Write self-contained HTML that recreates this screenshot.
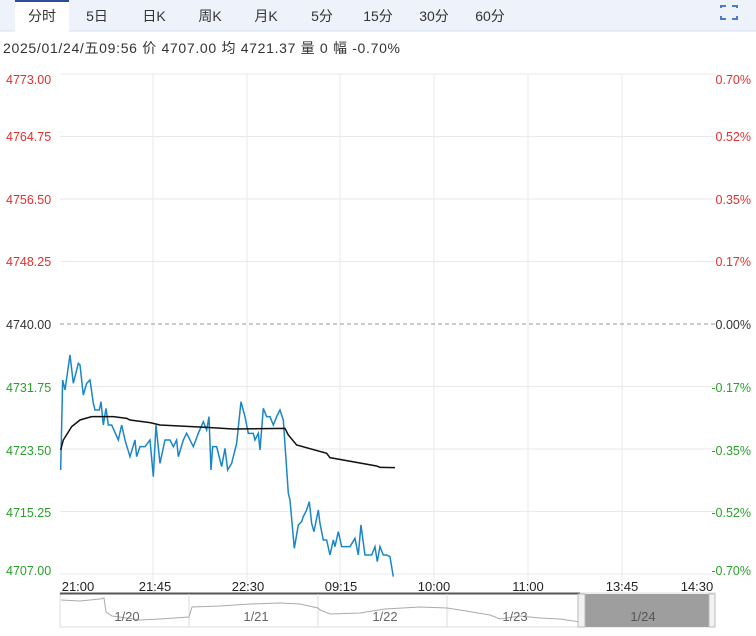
<!DOCTYPE html>
<html><head><meta charset="utf-8"><style>
body{margin:0;width:756px;height:631px;background:#fff;overflow:hidden;font-family:"Liberation Sans","Noto Sans CJK SC",sans-serif;}
</style></head><body>
<svg width="756" height="631" xmlns="http://www.w3.org/2000/svg" font-family="Liberation Sans, Noto Sans CJK SC, sans-serif">
<rect x="0" y="0" width="756" height="31" fill="#edf2fb"/>
<line x1="0" y1="31" x2="756" y2="31" stroke="#d8e0ee"/>
<rect x="15" y="0" width="54" height="32" fill="#fff"/>
<rect x="15" y="0" width="54" height="2" fill="#2a4d9b"/>
<g font-size="14" fill="#333" text-anchor="middle">
<text x="42" y="21">分时</text><text x="97" y="21">5日</text><text x="154" y="21">日K</text><text x="210" y="21">周K</text><text x="266" y="21">月K</text><text x="322" y="21">5分</text><text x="378" y="21">15分</text><text x="434" y="21">30分</text><text x="490" y="21">60分</text>
</g>
<g stroke="#4a7cc9" stroke-width="2" fill="none"><path d="M721 8v-2h5M732 6h5v2M721 16v3h5M732 19h5v-3"/></g>
<text x="3" y="53" font-size="14" fill="#333" textLength="397" lengthAdjust="spacing">2025/01/24/五09:56  价 4707.00  均 4721.37  量 0  幅 -0.70%</text>
<g stroke="#eaeaea" stroke-width="1">
<line x1="60" y1="74" x2="715" y2="74"/><line x1="60" y1="136.5" x2="715" y2="136.5"/><line x1="60" y1="199" x2="715" y2="199"/><line x1="60" y1="261.5" x2="715" y2="261.5"/><line x1="60" y1="386.5" x2="715" y2="386.5"/><line x1="60" y1="449" x2="715" y2="449"/><line x1="60" y1="511.5" x2="715" y2="511.5"/><line x1="60" y1="574" x2="715" y2="574"/>
<line x1="153" y1="74" x2="153" y2="593"/><line x1="247" y1="74" x2="247" y2="593"/><line x1="340" y1="74" x2="340" y2="593"/><line x1="434" y1="74" x2="434" y2="593"/><line x1="528" y1="74" x2="528" y2="593"/><line x1="622" y1="74" x2="622" y2="593"/>
</g>
<line x1="60" y1="324" x2="715" y2="324" stroke="#999" stroke-dasharray="4,3"/>
<g font-size="12.5">
<g fill="#e03030"><text x="6" y="84">4773.00</text><text x="6" y="141">4764.75</text><text x="6" y="204">4756.50</text><text x="6" y="266">4748.25</text>
<text x="751" y="84" text-anchor="end">0.70%</text><text x="751" y="141" text-anchor="end">0.52%</text><text x="751" y="204" text-anchor="end">0.35%</text><text x="751" y="266" text-anchor="end">0.17%</text></g>
<g fill="#333"><text x="6" y="329">4740.00</text><text x="751" y="329" text-anchor="end">0.00%</text></g>
<g fill="#2aa02a"><text x="6" y="392">4731.75</text><text x="6" y="455">4723.50</text><text x="6" y="517">4715.25</text><text x="6" y="575">4707.00</text>
<text x="751" y="392" text-anchor="end">-0.17%</text><text x="751" y="455" text-anchor="end">-0.35%</text><text x="751" y="517" text-anchor="end">-0.52%</text><text x="751" y="575" text-anchor="end">-0.70%</text></g>
</g>
<g transform="translate(40,340) scale(0.3333)" fill="none">
<polyline stroke="#1a86c8" stroke-width="4.5" points="62,390 68,120 75,150 90,45 100,130 115,70 120,75 130,165 140,130 150,120 160,190 165,210 178,210 183,185 190,255 198,205 205,255 215,255 235,300 245,255 255,300 270,350 285,300 290,350 300,320 315,320 330,300 340,410 348,255 360,370 375,300 390,300 400,320 410,300 415,350 430,300 440,280 460,320 475,280 490,245 500,270 507,230 513,390 518,320 530,320 545,380 555,325 563,390 575,370 590,310 603,185 615,230 625,280 640,280 645,300 655,280 660,330 670,205 680,230 690,230 700,255 710,230 720,210 730,240 745,460 750,480 763,625 775,555 785,545 790,530 800,510 808,485 815,550 822,575 835,510 840,550 850,600 860,600 870,645 880,600 885,620 895,575 905,620 930,620 945,595 955,645 963,555 975,645 995,645 1005,620 1012,665 1020,620 1030,645 1040,645 1050,650 1060,710"/>
<polyline stroke="#111" stroke-width="4.5" points="62,330 70,300 95,260 120,240 155,230 220,230 260,235 270,240 330,248 360,255 500,262 580,267 735,265 745,285 770,315 860,340 870,353 1010,378 1020,382 1065,383"/>
</g>
<g font-size="13" fill="#222" text-anchor="middle">
<text x="78" y="591">21:00</text><text x="155" y="591">21:45</text><text x="248" y="591">22:30</text><text x="341" y="591">09:15</text><text x="434" y="591">10:00</text><text x="528" y="591">11:00</text><text x="622" y="591">13:45</text><text x="697" y="591">14:30</text>
</g>
<rect x="60" y="593" width="655" height="34" fill="#fff" stroke="#ddd"/>
<line x1="60" y1="593.5" x2="580" y2="593.5" stroke="#555" stroke-width="2"/>
<g stroke="#ddd"><line x1="189" y1="594" x2="189" y2="627"/><line x1="318" y1="594" x2="318" y2="627"/><line x1="447" y1="594" x2="447" y2="627"/></g>
<polyline fill="none" stroke="#aaa" stroke-width="1" points="61,600 80,601 100,599 104,598 106,612 112,616 140,620 160,619 189,617 192,607 220,606 250,604 280,603 300,604 318,608 320,610 330,614 360,613 385,609 420,607 447,608 460,610 490,615 500,619 520,616 540,618 560,619 580,622"/>
<rect x="585" y="594" width="124" height="33" fill="#9e9e9e"/>
<rect x="578" y="594" width="7" height="33" fill="#f2f2f2" stroke="#bbb"/>
<rect x="709" y="594" width="6" height="33" fill="#f2f2f2" stroke="#bbb"/>
<g font-size="13" fill="#666" text-anchor="middle">
<text x="127" y="621">1/20</text><text x="256" y="621">1/21</text><text x="385" y="621">1/22</text><text x="515" y="621">1/23</text><text x="643" y="621" fill="#555">1/24</text>
</g>
</svg>
</body></html>
